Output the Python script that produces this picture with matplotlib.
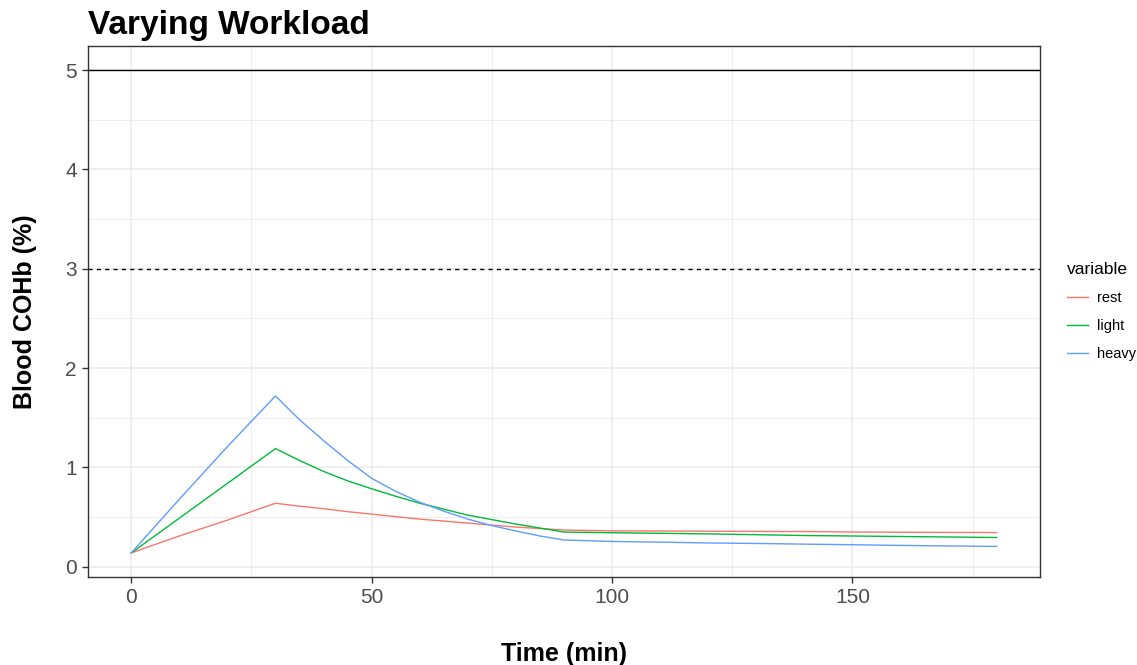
import matplotlib

matplotlib.use("Agg", force=True)
import matplotlib.pyplot as plt
from matplotlib.ticker import MultipleLocator

# COHb time course (%) for three workloads
time_min = [0, 10, 20, 30, 35, 40, 45, 50, 55, 60, 65, 70, 75, 80, 85, 90,
            100, 110, 120, 130, 140, 150, 160, 170, 180]
rest = [0.14, 0.31, 0.47, 0.64, 0.61, 0.585, 0.555, 0.53, 0.505, 0.48,
        0.46, 0.44, 0.42, 0.40, 0.385, 0.37,
        0.362, 0.36, 0.358, 0.356, 0.355, 0.35, 0.348, 0.346, 0.345]
light = [0.14, 0.49, 0.84, 1.19, 1.07, 0.96, 0.865, 0.785, 0.71, 0.64,
         0.58, 0.52, 0.475, 0.43, 0.39, 0.35,
         0.343, 0.337, 0.331, 0.323, 0.315, 0.31, 0.305, 0.30, 0.295]
heavy = [0.14, 0.68, 1.21, 1.72, 1.48, 1.27, 1.07, 0.89, 0.76, 0.65,
         0.56, 0.48, 0.415, 0.36, 0.31, 0.27,
         0.255, 0.248, 0.24, 0.235, 0.228, 0.222, 0.215, 0.21, 0.205]

series_names = ["rest", "light", "heavy"]
series_colors = ["#F8766D", "#00BA38", "#619CFF"]

limit_solid = 5
limit_dashed = 3

plt.rcParams["font.family"] = ["Liberation Sans", "DejaVu Sans"]

fig = plt.figure(figsize=(11.37, 6.65), dpi=100)
ax = fig.add_axes([0.0774, 0.1323, 0.9147 - 0.0774, 0.9308 - 0.1323])

for name, vals, col in zip(series_names, [rest, light, heavy], series_colors):
    ax.plot(time_min, vals, color=col, linewidth=1.0, label=name)

ax.axhline(limit_solid, color="black", linewidth=1.0)
ax.axhline(limit_dashed, color="black", linewidth=1.0, linestyle=(0, (3, 3)))

# ggplot-like default expansion (5% on each side)
ax.set_xlim(-9, 189)
ymin, ymax = 0.14, 5
pad = (ymax - ymin) * 0.05
ax.set_ylim(ymin - pad, ymax + pad)

ax.xaxis.set_major_locator(MultipleLocator(50))
ax.xaxis.set_minor_locator(MultipleLocator(25))
ax.yaxis.set_major_locator(MultipleLocator(1))
ax.yaxis.set_minor_locator(MultipleLocator(0.5))
ax.grid(which="major", color="#EBEBEB", linewidth=1.1)
ax.grid(which="minor", color="#EBEBEB", linewidth=0.6)
ax.set_axisbelow(True)

for sp in ax.spines.values():
    sp.set_color("#333333")
    sp.set_linewidth(1.0)

ax.tick_params(which="major", length=4, width=1.0, color="#333333",
               labelsize=15, labelcolor="#4D4D4D", pad=4)
ax.tick_params(which="minor", length=0)

ax.set_xlabel("Time (min)", fontsize=18, fontweight="bold", labelpad=25)
ax.set_ylabel("Blood COHb (%)", fontsize=18, fontweight="bold", labelpad=20)
ax.set_title("Varying Workload", fontsize=24, fontweight="bold", loc="left",
             pad=9)

leg = ax.legend(title="variable", loc="center left",
                bbox_to_anchor=(1.018, 0.5), frameon=False, fontsize=10.5,
                title_fontsize=12.5, handlelength=1.4, labelspacing=0.95,
                handletextpad=0.6, borderpad=0.2)
leg._legend_box.align = "left"

fig.savefig("out.png", dpi=100)
